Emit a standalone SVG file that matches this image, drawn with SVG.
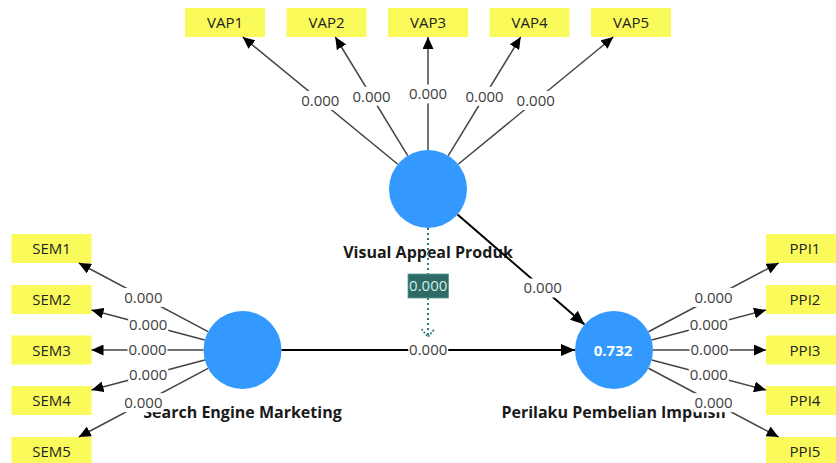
<svg xmlns="http://www.w3.org/2000/svg" width="836" height="463" viewBox="0 0 836 463">
<defs>
<style>
.lv{fill:#3399ff;}
.ind rect{fill:#fafa5a;}
.ind text{font-family:"Open Sans","Noto Sans",sans-serif;font-size:15px;fill:#222;text-anchor:middle;}
.name{font-family:"Open Sans","Noto Sans",sans-serif;font-size:16px;font-weight:bold;fill:#1a1a1a;text-anchor:middle;}
.r2{font-family:"Open Sans","Noto Sans",sans-serif;font-size:15px;font-weight:bold;fill:#fff;text-anchor:middle;}
.il{stroke:#444;stroke-width:1.5;fill:none;marker-end:url(#ah);}
.sl{stroke:#000;stroke-width:2;fill:none;marker-end:url(#ahs);}
.ml{stroke:#2b7a78;stroke-width:2;stroke-dasharray:2,3;fill:none;}
.lb rect{fill:#fff;}
.lb text{font-family:"Open Sans","Noto Sans",sans-serif;font-size:15px;fill:#404040;text-anchor:middle;}
</style>
<marker id="ah" markerUnits="userSpaceOnUse" markerWidth="12" markerHeight="11" refX="12" refY="5.5" orient="auto">
<path d="M0,0 L12,5.5 L0,11 z" fill="#000"/>
</marker>
<marker id="ahs" markerUnits="userSpaceOnUse" markerWidth="14" markerHeight="12" refX="14" refY="6" orient="auto">
<path d="M0,0 L14,6 L0,12 z" fill="#000"/>
</marker>
</defs>
<rect width="836" height="463" fill="#fff"/>

<g id="VAP">
<circle class="lv" cx="428" cy="189" r="39"/>
<text class="name" x="428" y="258">Visual Appeal Produk</text>
</g>
<g id="SEM">
<circle class="lv" cx="242.5" cy="350" r="39"/>
<text class="name" x="242.5" y="418">Search Engine Marketing</text>
</g>
<g id="PPI">
<circle class="lv" cx="614" cy="350" r="39"/>
<text class="r2" x="613" y="355.5">0.732</text>
<text class="name" x="614" y="418">Perilaku Pembelian Impulsif</text>
</g>

<g id="VAP1" class="ind"><rect x="185" y="8" width="80" height="29"/><text x="225" y="28">VAP1</text></g>
<g id="VAP2" class="ind"><rect x="286.5" y="8" width="80" height="29"/><text x="326.5" y="28">VAP2</text></g>
<g id="VAP3" class="ind"><rect x="388" y="8" width="80" height="29"/><text x="428" y="28">VAP3</text></g>
<g id="VAP4" class="ind"><rect x="489.5" y="8" width="80" height="29"/><text x="529.5" y="28">VAP4</text></g>
<g id="VAP5" class="ind"><rect x="591" y="8" width="80" height="29"/><text x="631" y="28">VAP5</text></g>

<g id="SEM1" class="ind"><rect x="11.5" y="234" width="80" height="29"/><text x="51.5" y="254">SEM1</text></g>
<g id="SEM2" class="ind"><rect x="11.5" y="285" width="80" height="29"/><text x="51.5" y="305">SEM2</text></g>
<g id="SEM3" class="ind"><rect x="11.5" y="335.5" width="80" height="29"/><text x="51.5" y="355.5">SEM3</text></g>
<g id="SEM4" class="ind"><rect x="11.5" y="386" width="80" height="29"/><text x="51.5" y="406">SEM4</text></g>
<g id="SEM5" class="ind"><rect x="11.5" y="437" width="80" height="29"/><text x="51.5" y="457">SEM5</text></g>

<g id="PPI1" class="ind"><rect x="766" y="234" width="80" height="29"/><text x="805" y="254">PPI1</text></g>
<g id="PPI2" class="ind"><rect x="766" y="285" width="80" height="29"/><text x="805" y="305">PPI2</text></g>
<g id="PPI3" class="ind"><rect x="766" y="335.5" width="80" height="29"/><text x="805" y="355.5">PPI3</text></g>
<g id="PPI4" class="ind"><rect x="766" y="386" width="80" height="29"/><text x="805" y="406">PPI4</text></g>
<g id="PPI5" class="ind"><rect x="766" y="437" width="80" height="29"/><text x="805" y="457">PPI5</text></g>

<g id="connectors">
<line class="il" x1="397.85" y1="164.27" x2="242.7" y2="37"/>
<line class="il" x1="407.7" y1="155.7" x2="335.3" y2="37"/>
<line class="il" x1="428" y1="150" x2="428" y2="37"/>
<line class="il" x1="448.3" y1="155.7" x2="520.7" y2="37"/>
<line class="il" x1="458.15" y1="164.27" x2="613.3" y2="37"/>

<line class="il" x1="208.06" y1="331.7" x2="78.8" y2="263"/>
<line class="il" x1="204.8" y1="340.03" x2="91.5" y2="310.1"/>
<line class="il" x1="203.5" y1="350" x2="91.5" y2="350"/>
<line class="il" x1="204.8" y1="359.97" x2="91.5" y2="389.9"/>
<line class="il" x1="208.06" y1="368.3" x2="78.8" y2="437"/>

<line class="il" x1="648.48" y1="331.77" x2="778.6" y2="263"/>
<line class="il" x1="651.7" y1="340.08" x2="766" y2="310"/>
<line class="il" x1="653" y1="350" x2="766" y2="350"/>
<line class="il" x1="651.7" y1="359.92" x2="766" y2="390"/>
<line class="il" x1="648.48" y1="368.23" x2="778.6" y2="437"/>

<line class="sl" x1="281.5" y1="350" x2="575" y2="350"/>
<line class="sl" x1="457.5" y1="214.5" x2="584.5" y2="324.5"/>

<line class="ml" x1="428" y1="228" x2="428" y2="336"/>
<path d="M421.5,329 L428,337 L434.5,329" fill="none" stroke="#2b7a78" stroke-width="1.6" stroke-dasharray="2,1.5"/>

<g class="lb">
<rect x="300.3" y="91" width="40" height="19"/><text x="320.3" y="105.8">0.000</text>
<rect x="351.5" y="86.8" width="40" height="19"/><text x="371.5" y="101.6">0.000</text>
<rect x="408" y="84.5" width="40" height="19"/><text x="428" y="99.3">0.000</text>
<rect x="464.5" y="86.8" width="40" height="19"/><text x="484.5" y="101.6">0.000</text>
<rect x="515.7" y="91" width="40" height="19"/><text x="535.7" y="105.8">0.000</text>

<rect x="123.4" y="287.9" width="40" height="19"/><text x="143.4" y="302.7">0.000</text>
<rect x="128.2" y="315.6" width="40" height="19"/><text x="148.2" y="330.4">0.000</text>
<rect x="127.5" y="340.5" width="40" height="19"/><text x="147.5" y="355.3">0.000</text>
<rect x="128.2" y="365.5" width="40" height="19"/><text x="148.2" y="380.3">0.000</text>
<rect x="123.4" y="393.2" width="40" height="19"/><text x="143.4" y="408">0.000</text>

<rect x="693.5" y="287.9" width="40" height="19"/><text x="713.5" y="302.7">0.000</text>
<rect x="688.8" y="315.6" width="40" height="19"/><text x="708.8" y="330.4">0.000</text>
<rect x="689.5" y="340.5" width="40" height="19"/><text x="709.5" y="355.3">0.000</text>
<rect x="688.8" y="365.5" width="40" height="19"/><text x="708.8" y="380.3">0.000</text>
<rect x="693.5" y="393.2" width="40" height="19"/><text x="713.5" y="408">0.000</text>

<rect x="408.2" y="340.5" width="40" height="19"/><text x="428.2" y="355.3">0.000</text>
<rect x="522.7" y="278.5" width="40" height="19"/><text x="542.7" y="293.3">0.000</text>
</g>
<rect x="408" y="274" width="40.5" height="24" fill="#2e6a66" stroke="#5e9994" stroke-width="0.8"/>
<text x="428.2" y="291.3" font-family="'Open Sans','Noto Sans',sans-serif" font-size="15" fill="#d6ece9" text-anchor="middle">0.000</text>
</g>
</svg>
